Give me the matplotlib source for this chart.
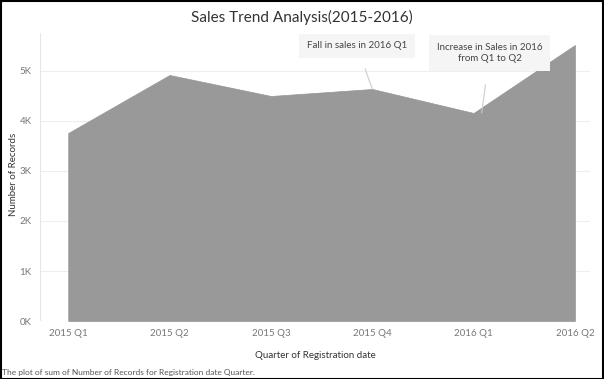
import matplotlib.pyplot as plt
from matplotlib.ticker import FuncFormatter

quarters = ['2015 Q1', '2015 Q2', '2015 Q3', '2015 Q4', '2016 Q1', '2016 Q2']
records = [3760, 4920, 4500, 4640, 4160, 5520]

plt.rcParams['font.family'] = ['Lato', 'DejaVu Sans']

fig = plt.figure(figsize=(6.04, 3.79), dpi=100)
ax = fig.add_axes([0.066, 0.153, 0.911, 0.76])

x = list(range(len(quarters)))
ax.fill_between(x, records, 0, color='#999999', linewidth=0.5, edgecolor='#959595')

ax.set_xlim(-0.28, 5.15)
ax.set_ylim(0, 5760)
ax.set_xticks(x)
ax.set_xticklabels(quarters)
ax.set_yticks(range(0, 6000, 1000))
ax.yaxis.set_major_formatter(FuncFormatter(lambda v, p: f'{int(v / 1000)}K'))

ax.tick_params(length=0, labelsize=7, labelcolor='#777777', pad=6)
for s in ax.spines.values():
    s.set_visible(False)
ax.axvline(-0.28, color='#e6e6e6', linewidth=0.8)
ax.grid(axis='y', color='#eeeeee', linewidth=0.8)
ax.set_axisbelow(True)

ax.set_ylabel('Number of Records', fontsize=7, color='#333333')
ax.yaxis.set_label_coords(-0.04, 0.51)
ax.set_xlabel('Quarter of Registration date', fontsize=7, color='#333333', labelpad=9)
fig.text(0.5, 0.955, 'Sales Trend Analysis(2015-2016)', ha='center', va='center',
         fontsize=11, color='#333333')
fig.text(0.004, 0.018, 'The plot of sum of Number of Records for Registration date Quarter.',
         fontsize=6, color='#555555', ha='left', va='center')

box = dict(boxstyle='square,pad=0.8', facecolor='#f5f5f5', edgecolor='none')
ax.annotate('Fall in sales in 2016 Q1', xy=(3, records[3]), xytext=(2.85, 5500),
            ha='center', va='center', fontsize=7, color='#444444', bbox=box,
            arrowprops=dict(arrowstyle='-', color='#cccccc', linewidth=0.8, shrinkA=8, shrinkB=0))
ax.annotate('Increase in Sales in 2016\nfrom Q1 to Q2', xy=(4.08, records[4]), xytext=(4.16, 5360),
            ha='center', va='center', fontsize=7, color='#444444', bbox=box, linespacing=1.4,
            arrowprops=dict(arrowstyle='-', color='#cccccc', linewidth=0.8, shrinkA=10, shrinkB=0))

fig.patches.append(plt.Rectangle((0.001, 0.001), 0.997, 0.997, transform=fig.transFigure,
                                 fill=False, edgecolor='black', linewidth=1.5))

fig.savefig('out.png', dpi=100)
